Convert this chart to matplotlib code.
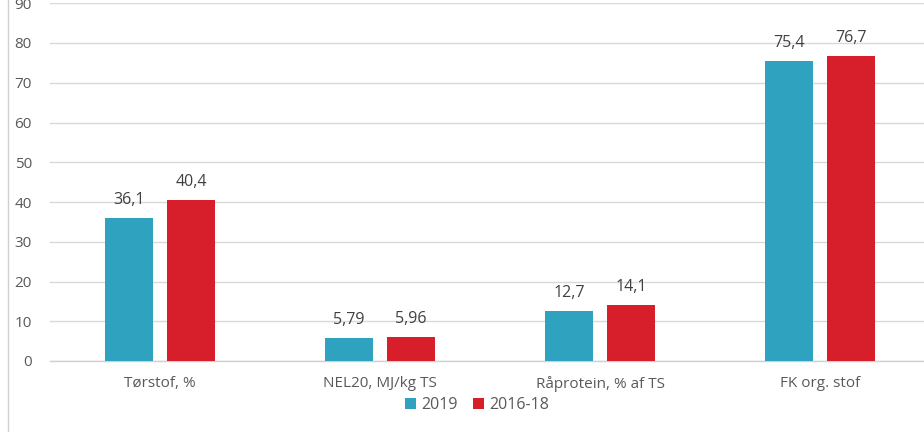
import matplotlib
matplotlib.use("Agg")
import matplotlib.pyplot as plt
from matplotlib.lines import Line2D
from matplotlib.patches import Patch
import numpy as np

categories = ["Tørstof, %", "NEL20, MJ/kg TS", "Råprotein, % af TS", "FK org. stof"]
values_2019 = [36.1, 5.79, 12.7, 75.4]
values_2016_18 = [40.4, 5.96, 14.1, 76.7]
labels_2019 = ["36,1", "5,79", "12,7", "75,4"]
labels_2016_18 = ["40,4", "5,96", "14,1", "76,7"]
series_names = ["2019", "2016-18"]
yticks = [0, 10, 20, 30, 40, 50, 60, 70, 80, 90]

plt.rcParams['font.family'] = ['Open Sans', 'DejaVu Sans']

W, H = 924, 432
fig = plt.figure(figsize=(W / 100, H / 100), dpi=100)
# axes: left 50px, right 930px, bottom y=361px, top y=3px
ax = fig.add_axes([50 / W, (H - 361) / H, 880 / W, (361 - 3.25) / H])

blue = "#2ea2bf"
red = "#d71f2b"
x = np.arange(len(categories))
bw = 0.222
off = 0.141
b1 = ax.bar(x - off, values_2019, bw, color=blue, zorder=3)
b2 = ax.bar(x + off, values_2016_18, bw, color=red, zorder=3)

for rect, lab in zip(b1, labels_2019):
    ax.text(rect.get_x() + rect.get_width() / 2, rect.get_height() + 2.5, lab,
            ha="center", va="bottom", fontsize=11.5, color="#404040")
for rect, lab in zip(b2, labels_2016_18):
    ax.text(rect.get_x() + rect.get_width() / 2, rect.get_height() + 2.5, lab,
            ha="center", va="bottom", fontsize=11.5, color="#404040")

ax.set_xlim(-0.5, 3.5)
ax.set_ylim(0, 90)
ax.set_yticks(yticks)
ax.set_yticklabels([str(t) for t in yticks])
ax.set_xticks(x)
ax.set_xticklabels(categories)
ax.tick_params(axis="both", length=0, labelsize=11, colors="#595959")
ax.tick_params(axis="y", pad=13)
ax.tick_params(axis="x", pad=11)
ax.grid(axis="y", color="#d9d9d9", linewidth=1.0, zorder=0)
for s in ["top", "right", "left"]:
    ax.spines[s].set_visible(False)
ax.spines["bottom"].set_color("#d0d0d0")
ax.spines["bottom"].set_linewidth(1.0)
for lbl in ax.get_yticklabels():
    lbl.set_clip_on(False)

handles = [Patch(facecolor=blue, label=series_names[0]),
           Patch(facecolor=red, label=series_names[1])]
fig.legend(handles=handles, loc="center", bbox_to_anchor=(477 / W, (H - 405) / H),
           ncol=2, frameon=False, fontsize=11.5, handlelength=0.7, handleheight=0.7,
           handletextpad=0.3, columnspacing=1.0, labelcolor="#595959")

fig.add_artist(Line2D([8 / W, 8 / W], [(H - 432) / H, 1.0], color="#d0d0d0", linewidth=1.0))

fig.savefig("out.png", dpi=100)
